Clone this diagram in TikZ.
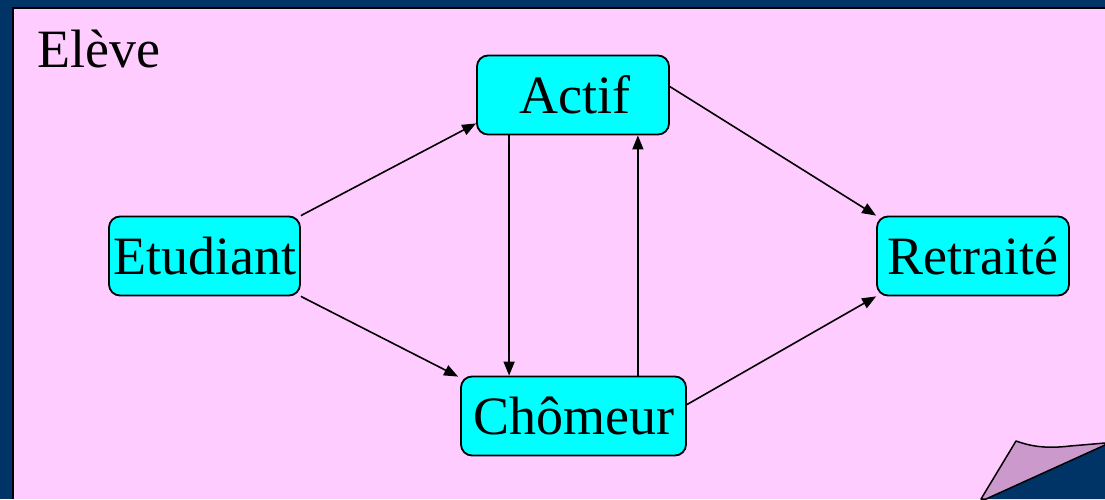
\documentclass[tikz,border=0pt]{standalone}
\usepackage{fontspec}
\setmainfont{Liberation Serif}
\usetikzlibrary{arrows.meta,calc}
\definecolor{navy}{HTML}{003366}
\definecolor{panel}{HTML}{FFCCFF}
\definecolor{boxc}{HTML}{00FFFF}
\definecolor{curl}{HTML}{CC99CC}
\tikzset{
  state/.style={draw=black, line width=1.8pt, fill=boxc, rounded corners=11pt,
    inner sep=0pt, minimum height=79pt, font=\fontsize{54}{64}\selectfont},
  link/.style={line width=1.6pt, -{Triangle[length=14pt,width=11pt]}}
}
\begin{document}
\begin{tikzpicture}[x=1pt,y=-1pt]
\useasboundingbox (0,0) rectangle (1105,499);
\fill[navy] (0,0) rectangle (1105,499);
\fill[panel] (13,8) rectangle (1105,499);
\draw[black, line width=2.5pt] (13,499) -- (13,8) -- (1105,8);
% page curl
\fill[navy] (986,499) -- (1105,445) -- (1105,499) -- cycle;
\draw[black, line width=1.5pt, fill=curl, line join=round] (981,499) -- (1016,441)
  .. controls (1030,446) and (1045,449) .. (1070,446) -- (1105,443) -- (1105,445) -- (986,499) -- cycle;
\node[anchor=base west, font=\fontsize{54}{64}\selectfont, inner sep=0pt] (eleve) at (37,67) {Elève};
\node[state, minimum width=192pt] (actif) at (573,95) {\hspace*{4pt}Actif};
\node[state, minimum width=191pt] (etu) at (204.5,256) {Etudiant};
\node[state, minimum width=192pt] (retr) at (973,256) {Retraité};
\node[state, minimum width=225pt] (chom) at (573.5,416) {Chômeur};
\draw[link] (etu.north east) -- ([yshift=12pt]actif.south west);
\draw[link] (etu.south east) -- ([xshift=-2pt,yshift=-1pt]chom.north west);
\draw[link] ([xshift=33pt]actif.south west) -- ([xshift=33pt]actif.south west |- chom.north);
\draw[link] ([xshift=-49pt]chom.north east) -- ([xshift=-49pt]chom.north east |- actif.south);
\draw[link] ([yshift=-32pt]actif.north east) -- (retr.north west);
\draw[link] ([yshift=-29pt]chom.north east) -- (retr.south west);
\end{tikzpicture}
\end{document}
